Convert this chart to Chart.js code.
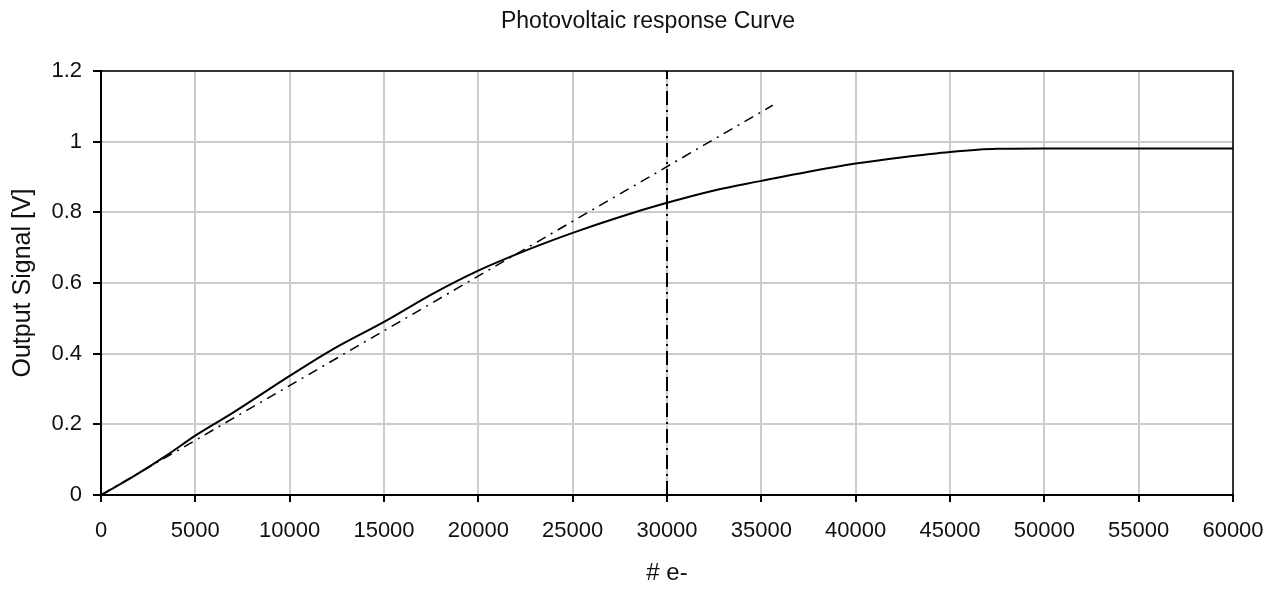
<!DOCTYPE html>
<html>
<head>
<meta charset="utf-8">
<title>Photovoltaic response Curve</title>
<script src="https://cdn.jsdelivr.net/npm/chart.js@4.4.1/dist/chart.umd.min.js"></script>
<style>
  html, body { margin: 0; padding: 0; background: #fff; }
  #wrap { width: 1272px; height: 590px; }
</style>
</head>
<body>
<div id="wrap"><canvas id="pv" width="1272" height="590"></canvas></div>
<script>
// measured response (number of electrons vs output voltage)
const electrons = [0, 300, 1700, 3500, 5000, 7000, 10000, 12300, 15000, 17600, 20000, 22900, 25000, 27500, 30000, 32500, 35000, 37500, 40000, 42500, 45000, 47500, 50000, 55000, 60000];
const signal = [0, 0.009, 0.052, 0.113, 0.168, 0.233, 0.337, 0.413, 0.49, 0.57, 0.635, 0.70, 0.742, 0.787, 0.827, 0.862, 0.889, 0.915, 0.938, 0.956, 0.971, 0.98, 0.981, 0.981, 0.981];

// linear fit line
const fitX = [0, 35600];
const fitY = [0, 1.103];

// full-well marker
const markerX = [30000, 30000];
const markerY = [0, 1.2];

const xTickLabels = ['0', '5000', '10000', '15000', '20000', '25000', '30000', '35000', '40000', '45000', '50000', '55000', '60000'];
const yTickLabels = ['0', '0.2', '0.4', '0.6', '0.8', '1', '1.2'];

const FONT = "'Liberation Sans', Arial, sans-serif";

function pts(xs, ys) {
  return xs.map((x, i) => ({ x: x, y: ys[i] }));
}

const frame = {
  id: 'frame',
  afterDraw(chart) {
    const c = chart.ctx, a = chart.chartArea;
    c.save();
    c.strokeStyle = '#000';
    c.lineWidth = 1.5;
    c.strokeRect(a.left, a.top, a.right - a.left, a.bottom - a.top);
    c.fillStyle = '#111';
    c.font = '23px ' + FONT;
    c.textAlign = 'center';
    c.textBaseline = 'alphabetic';
    c.fillText('Photovoltaic response Curve', 648, 28);
    c.restore();
  }
};

new Chart(document.getElementById('pv').getContext('2d'), {
  type: 'line',
  data: {
    datasets: [
      {
        label: 'response',
        data: pts(electrons, signal),
        borderColor: '#000',
        borderWidth: 2,
        pointRadius: 0,
        cubicInterpolationMode: 'monotone',
        fill: false
      },
      {
        label: 'linear',
        data: pts(fitX, fitY),
        borderColor: '#000',
        borderWidth: 1.5,
        borderDash: [10, 6, 2, 6],
        pointRadius: 0,
        fill: false
      },
      {
        label: 'marker',
        data: pts(markerX, markerY),
        borderColor: '#000',
        borderWidth: 2,
        borderDash: [14, 5, 2, 5],
        pointRadius: 0,
        fill: false
      }
    ]
  },
  options: {
    responsive: false,
    animation: false,
    layout: { padding: { left: 0, right: 39, top: 71, bottom: 0 } },
    plugins: {
      legend: { display: false },
      tooltip: { enabled: false }
    },
    scales: {
      x: {
        type: 'linear',
        min: 0,
        max: 60000,
        afterFit: (s) => { s.height = 95; s.paddingLeft = 0; s.paddingRight = 0; },
        ticks: {
          stepSize: 5000,
          padding: 16,
          color: '#111',
          font: { family: FONT, size: 22 },
          maxRotation: 0,
          autoSkip: false,
          callback: (v, i) => xTickLabels[i]
        },
        grid: { color: '#cccccc', lineWidth: 2, tickLength: 7, tickColor: '#000', tickWidth: 2 },
        border: { color: '#000', width: 2 },
        title: {
          display: true,
          text: '# e-',
          color: '#111',
          font: { family: FONT, size: 24 },
          padding: { top: 0, bottom: 2 }
        }
      },
      y: {
        min: 0,
        max: 1.2,
        afterFit: (s) => { s.width = 101; s.paddingTop = 0; s.paddingBottom = 0; },
        ticks: {
          stepSize: 0.2,
          padding: 11,
          color: '#111',
          font: { family: FONT, size: 22 },
          callback: (v, i) => yTickLabels[i]
        },
        grid: { color: '#cccccc', lineWidth: 2, tickLength: 8, tickColor: '#000', tickWidth: 2 },
        border: { color: '#000', width: 2 },
        title: {
          display: true,
          text: 'Output Signal [V]',
          color: '#111',
          font: { family: FONT, size: 25 },
          padding: { top: 8, bottom: 0 }
        }
      }
    }
  },
  plugins: [frame]
});
</script>
</body>
</html>
